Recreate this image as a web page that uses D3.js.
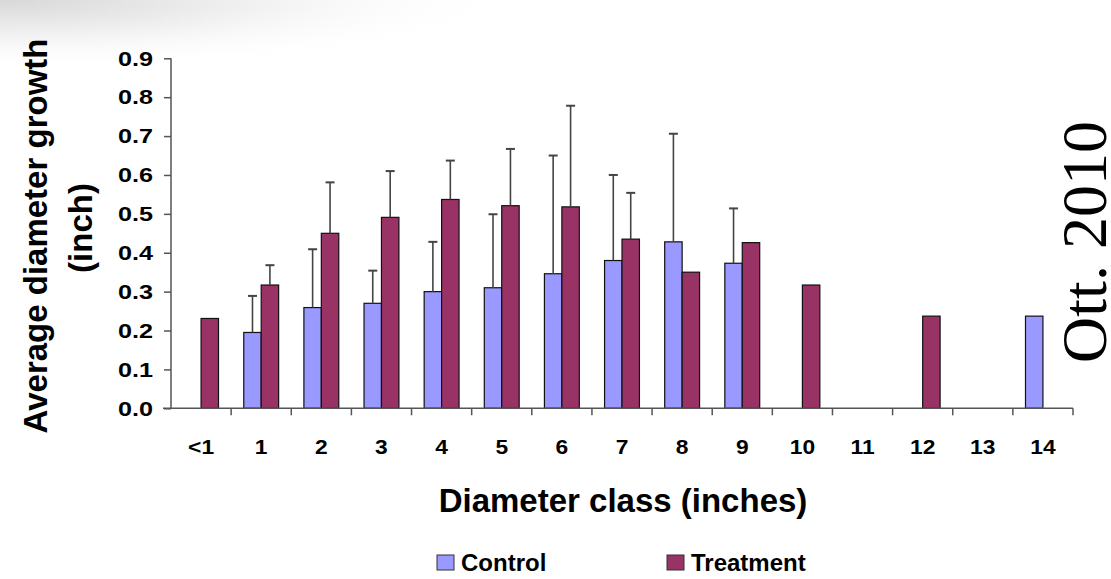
<!DOCTYPE html>
<html>
<head>
<meta charset="utf-8">
<script src="https://cdn.jsdelivr.net/npm/d3@7/dist/d3.min.js"></script>
<style>
  body { margin: 0; background: #fff; }
  text { font-family: "Liberation Sans", Arial, sans-serif; font-weight: bold; fill: #000; }
</style>
</head>
<body>
<svg class="chart"></svg>
<script>
var categories = ["<1", "1", "2", "3", "4", "5", "6", "7", "8", "9", "10", "11", "12", "13", "14"];
var control    = [null, 0.195, 0.259, 0.270, 0.300, 0.310, 0.346, 0.380, 0.428, 0.373, null, null, null, null, 0.237];
var controlErr = [null, 0.094, 0.150, 0.084, 0.128, 0.189, 0.304, 0.220, 0.278, 0.141, null, null, null, null, null];
var treatment    = [0.231, 0.317, 0.450, 0.491, 0.537, 0.521, 0.518, 0.435, 0.350, 0.426, 0.317, null, 0.237, null, null];
var treatmentErr = [null, 0.051, 0.131, 0.119, 0.100, 0.146, 0.260, 0.119, null, null, null, null, null, null, null];
var yTicks = [0, 0.1, 0.2, 0.3, 0.4, 0.5, 0.6, 0.7, 0.8, 0.9];
var seriesNames = ["Control", "Treatment"];
var colors = ["#9999ff", "#993366"];

var W = 1111, H = 579;
var margin = {top: 58.3, left: 171, right: 38, bottom: 170.7},
    width = W - margin.left - margin.right,
    height = H - margin.top - margin.bottom;

var svg = d3.select(".chart").attr("width", W).attr("height", H);

// the original labels are a bit wider than Arial, stretch them
function stretch(sel, k) {
  sel.each(function() {
    var w = this.getComputedTextLength();
    d3.select(this).attr("textLength", w * k).attr("lengthAdjust", "spacingAndGlyphs");
  });
}

// faint shading in the top-left corner
var defs = svg.append("defs");
var grad = defs.append("radialGradient").attr("id", "shade")
    .attr("cx", 0).attr("cy", 0).attr("r", 1);
grad.append("stop").attr("offset", "0%").attr("stop-color", "#d8d8d8");
grad.append("stop").attr("offset", "55%").attr("stop-color", "#f4f4f4");
grad.append("stop").attr("offset", "100%").attr("stop-color", "#ffffff").attr("stop-opacity", 0);
svg.append("rect").attr("x", 0).attr("y", 0).attr("width", 520).attr("height", 70)
    .attr("fill", "url(#shade)");

var g = svg.append("g")
    .attr("transform", "translate(" + margin.left + "," + margin.top + ")");

// scales
var xScale = d3.scaleBand().domain(categories).range([0, width]).padding(0);
var yScale = d3.scaleLinear().domain([0, 0.9]).range([height, 0]);
var barW = xScale.bandwidth() * 0.29;

// y-axis
var yAxis = d3.axisLeft(yScale).tickValues(yTicks).tickFormat(d3.format(".1f"))
    .tickSize(7).tickPadding(11);
g.append("g").attr("class", "y axis").call(yAxis)
    .call(function(s) {
      s.selectAll("path, line").attr("stroke", "#555").attr("stroke-width", 1.5);
      s.selectAll("text").style("font-size", "21px").call(stretch, 1.2);
      s.select(".domain").attr("d", "M0," + yScale(0.9) + "V" + yScale(0));
    });

// bars
var rows = categories.map(function(c, i) {
  return [
    {cat: c, s: 0, v: control[i], e: controlErr[i]},
    {cat: c, s: 1, v: treatment[i], e: treatmentErr[i]}
  ];
});
var flat = [].concat.apply([], rows).filter(function(d) { return d.v != null; });
var barX = function(d) {
  var c = xScale(d.cat) + xScale.bandwidth() / 2;
  return d.s === 0 ? c - barW : c;
};

g.selectAll(".bar").data(flat).enter().append("rect")
    .attr("class", "bar")
    .attr("x", barX)
    .attr("y", function(d) { return yScale(d.v); })
    .attr("width", barW)
    .attr("height", function(d) { return yScale(0) - yScale(d.v); })
    .attr("fill", function(d) { return colors[d.s]; })
    .attr("stroke", "#111")
    .attr("stroke-width", 1.2);

// error bars (upper only)
var errs = flat.filter(function(d) { return d.e != null; });
var eb = g.selectAll(".err").data(errs).enter().append("g").attr("class", "err")
    .attr("stroke", "#444").attr("stroke-width", 1.6);
eb.append("line")
    .attr("x1", function(d) { return barX(d) + barW / 2; })
    .attr("x2", function(d) { return barX(d) + barW / 2; })
    .attr("y1", function(d) { return yScale(d.v); })
    .attr("y2", function(d) { return yScale(d.v + d.e); });
eb.append("line")
    .attr("x1", function(d) { return barX(d) + barW / 2 - 4.5; })
    .attr("x2", function(d) { return barX(d) + barW / 2 + 4.5; })
    .attr("y1", function(d) { return yScale(d.v + d.e); })
    .attr("y2", function(d) { return yScale(d.v + d.e); })
    .attr("stroke-width", 2);

// x-axis: line, boundary ticks, labels
var xg = g.append("g").attr("class", "x axis").attr("transform", "translate(0," + height + ")");
xg.append("line").attr("x1", -8).attr("x2", width).attr("stroke", "#555").attr("stroke-width", 1.5);
xg.selectAll(".tick").data(categories.slice(1).concat(["end"])).enter().append("line")
    .attr("x1", function(d, i) { return xScale.step() * (i + 1); })
    .attr("x2", function(d, i) { return xScale.step() * (i + 1); })
    .attr("y1", 0).attr("y2", 7)
    .attr("stroke", "#555").attr("stroke-width", 1.5);
xg.selectAll(".lbl").data(categories).enter().append("text")
    .attr("x", function(d) { return xScale(d) + xScale.bandwidth() / 2; })
    .attr("y", 46)
    .style("text-anchor", "middle")
    .style("font-size", "20px")
    .text(function(d) { return d; })
    .call(stretch, 1.14);

// axis titles
svg.append("text")
    .attr("x", 623).attr("y", 512)
    .style("text-anchor", "middle").style("font-size", "33px")
    .text("Diameter class (inches)");

svg.append("text")
    .attr("transform", "translate(47,236) rotate(-90)")
    .style("text-anchor", "middle").style("font-size", "33px")
    .text("Average diameter growth");
svg.append("text")
    .attr("transform", "translate(92,228) rotate(-90)")
    .style("text-anchor", "middle").style("font-size", "33px")
    .text("(inch)");

// legend
var legX = [437, 667];
var leg = svg.selectAll(".legend").data(seriesNames).enter().append("g")
    .attr("class", "legend")
    .attr("transform", function(d, i) { return "translate(" + legX[i] + ",555)"; });
leg.append("rect").attr("width", 17).attr("height", 15)
    .attr("fill", function(d, i) { return colors[i]; })
    .attr("stroke", "#333").attr("stroke-width", 1);
leg.append("text").attr("x", 24).attr("y", 16)
    .style("font-size", "24px")
    .text(function(d) { return d; });

// citation
svg.append("text")
    .attr("transform", "translate(1106,242) rotate(-90)")
    .style("text-anchor", "middle")
    .style("font-family", "'Liberation Serif', 'Times New Roman', serif")
    .style("font-weight", "normal")
    .style("font-size", "64px")
    .text("Ott. 2010");
</script>
</body>
</html>
